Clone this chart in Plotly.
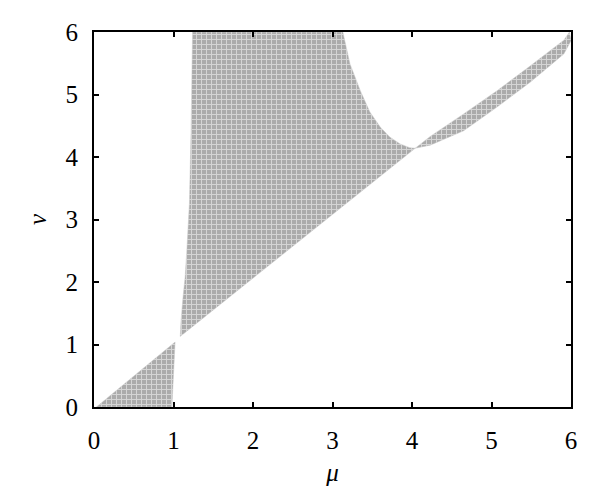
import plotly.graph_objects as go

# Boundary points (mu, nu)
lower_mu = [0.03, 0.98, 1.02, 0.03]
lower_nu = [0.00, 0.00, 1.04, 0.00]

upper_mu = [1.085, 1.095, 1.12, 1.146, 1.17, 1.20, 1.22, 1.24,
            3.13, 3.22, 3.35, 3.47, 3.60, 3.72, 3.85, 3.97, 4.04, 1.085]
upper_nu = [1.13, 1.39, 1.76, 2.08, 2.56, 3.26, 4.38, 6.00,
            6.00, 5.49, 5.06, 4.72, 4.48, 4.32, 4.21, 4.15, 4.14, 1.13]

band_mu = [4.04, 4.23, 4.65, 5.07, 5.49, 5.91, 5.98,
           6.00, 5.91, 5.49, 5.07, 4.65, 4.23, 4.04]
band_nu = [4.14, 4.33, 4.69, 5.06, 5.46, 5.87, 6.00,
           5.86, 5.65, 5.20, 4.80, 4.42, 4.19, 4.14]

tick_vals = [0, 1, 2, 3, 4, 5, 6]
tick_text = ["0", "1", "2", "3", "4", "5", "6"]

pattern = dict(shape="+", fgcolor="white", bgcolor="#ababab", size=5, solidity=0.35)

fig = go.Figure()
for xs, ys in [(lower_mu, lower_nu), (upper_mu, upper_nu), (band_mu, band_nu)]:
    fig.add_trace(go.Scatter(
        x=xs, y=ys, mode="lines", fill="toself",
        line=dict(width=0.5, color="#c8c8c8"),
        fillcolor="#bababa", fillpattern=pattern,
        hoverinfo="skip", showlegend=False,
    ))

font = dict(family="Liberation Serif, DejaVu Serif, serif", size=25, color="black")
axis_common = dict(
    range=[0, 6], tickvals=tick_vals, ticktext=tick_text,
    showgrid=False, zeroline=False, showline=True, linecolor="black", linewidth=2,
    mirror="ticks", ticks="inside", ticklen=5, tickwidth=2, tickcolor="black",
    tickfont=font, automargin=False,
)

# The page body has an 8px default margin, so the margins are offset by it
fig.update_layout(
    width=600, height=504,
    margin=dict(l=85.5, r=37, t=24, b=105),
    paper_bgcolor="white", plot_bgcolor="white",
    font=font,
    xaxis=dict(**axis_common, title=dict(text="<i>μ</i>", font=font, standoff=10),
               ticklabelstandoff=10),
    yaxis=dict(**axis_common, title=dict(text="<i>ν</i>", font=font, standoff=12),
               ticklabelstandoff=9),
)

fig.write_html("out.html")
